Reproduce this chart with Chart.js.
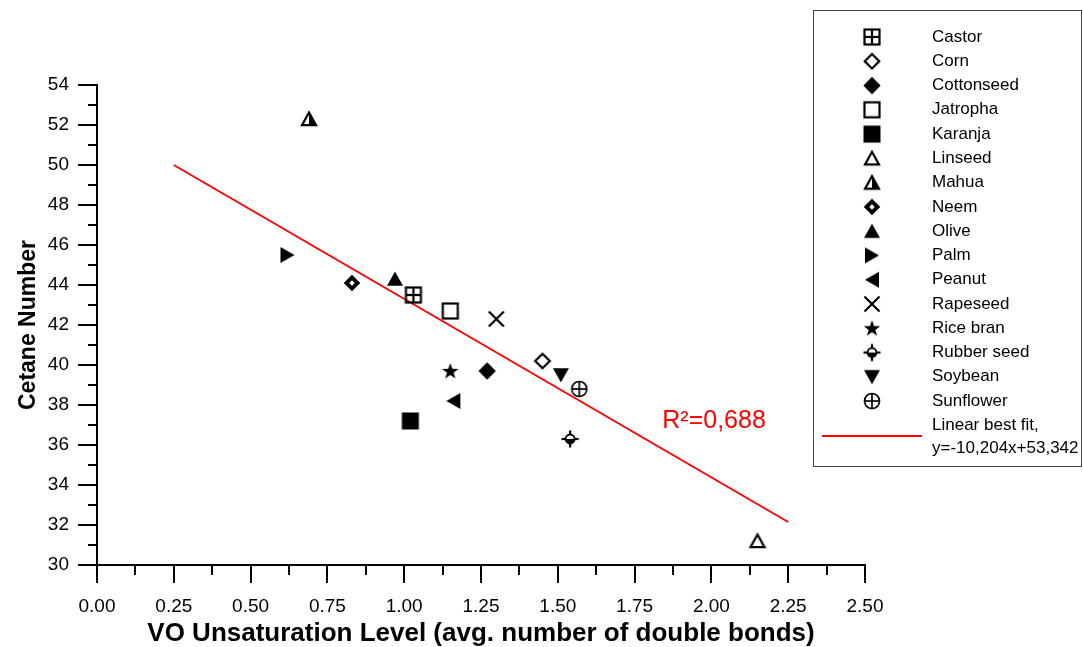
<!DOCTYPE html>
<html>
<head>
<meta charset="utf-8">
<script src="https://cdn.jsdelivr.net/npm/chart.js@4.4.1/dist/chart.umd.min.js"></script>
<style>
  html, body { margin: 0; padding: 0; background: #fff; }
  canvas { display: block; }
</style>
</head>
<body>
<canvas id="chart" width="1083" height="647"></canvas>
<script>
const FONT = "'Liberation Sans', Arial, sans-serif";

const oils = ["Castor", "Corn", "Cottonseed", "Jatropha", "Karanja", "Linseed", "Mahua", "Neem",
    "Olive", "Palm", "Peanut", "Rapeseed", "Rice bran", "Rubber seed", "Soybean", "Sunflower"];
const unsaturation = [1.03, 1.45, 1.27, 1.15, 1.02, 2.15, 0.69, 0.83, 0.97, 0.62, 1.16, 1.30, 1.15, 1.54, 1.51, 1.57];
const cetane = [43.5, 40.2, 39.7, 42.7, 37.2, 31.2, 52.3, 44.1, 44.3, 45.5, 38.2, 42.3, 39.7, 36.3, 39.5, 38.8];

// best-fit line as drawn in the figure (end points)
const fitX = [0.25, 2.25];
const fitY = [50.0, 32.15];
const fitLabel = ["Linear best fit,", "y=-10,204x+53,342"];
const r2Text = "R\u00B2=0,688";
const r2Pos = [1.84, 37.2];

const xTicks = { min: 0, max: 2.5, step: 0.25 };
const yTicks = { min: 30, max: 54, step: 2 };

// ---- marker glyphs ----
function marker(draw) {
    const c = document.createElement("canvas");
    c.width = 24;
    c.height = 24;
    const g = c.getContext("2d");
    g.fillStyle = "#000";
    g.strokeStyle = "#000";
    g.lineWidth = 2.2;
    draw(g);
    return c;
}

function poly(g, pts) {
    g.beginPath();
    g.moveTo(pts[0][0], pts[0][1]);
    pts.slice(1).forEach((p) => g.lineTo(p[0], p[1]));
    g.closePath();
}

function line(g, x1, y1, x2, y2) {
    g.beginPath();
    g.moveTo(x1, y1);
    g.lineTo(x2, y2);
    g.stroke();
}

const diamond = (r) => [[12, 12 - r], [12 + r, 12], [12, 12 + r], [12 - r, 12]];

const markers = {
    Castor: marker((g) => {
        g.strokeRect(4.5, 4.5, 15, 15);
        line(g, 12, 4.5, 12, 19.5);
        line(g, 4.5, 12, 19.5, 12);
    }),
    Corn: marker((g) => { poly(g, diamond(7.3)); g.stroke(); }),
    Cottonseed: marker((g) => { poly(g, diamond(8.7)); g.fill(); }),
    Jatropha: marker((g) => g.strokeRect(4.5, 4.5, 15, 15)),
    Karanja: marker((g) => g.fillRect(3.5, 3.5, 17, 17)),
    Linseed: marker((g) => { poly(g, [[12, 5.5], [19, 18.2], [5, 18.2]]); g.stroke(); }),
    Mahua: marker((g) => {
        poly(g, [[12, 5], [19.5, 18.7], [12, 18.7]]);
        g.fill();
        poly(g, [[12, 5.5], [19, 18.2], [5, 18.2]]);
        g.stroke();
    }),
    Neem: marker((g) => {
        poly(g, diamond(8.3));
        g.fill();
        g.fillStyle = "#fff";
        poly(g, diamond(2.7));
        g.fill();
    }),
    Olive: marker((g) => { poly(g, [[12, 4.5], [20, 18.7], [4, 18.7]]); g.fill(); }),
    Palm: marker((g) => { poly(g, [[5, 4], [19, 12], [5, 20]]); g.fill(); }),
    Peanut: marker((g) => { poly(g, [[19, 4], [5, 12], [19, 20]]); g.fill(); }),
    Rapeseed: marker((g) => { line(g, 4.5, 4.5, 19.5, 19.5); line(g, 19.5, 4.5, 4.5, 19.5); }),
    "Rice bran": marker((g) => {
        const pts = [];
        for (let i = 0; i < 10; i++) {
            const r = i % 2 ? 3.5 : 8.6;
            const a = -Math.PI / 2 + i * Math.PI / 5;
            pts.push([12 + r * Math.cos(a), 12.6 + r * Math.sin(a)]);
        }
        poly(g, pts);
        g.fill();
    }),
    "Rubber seed": marker((g) => {
        line(g, 12, 3.5, 12, 20.5);
        line(g, 3.5, 12, 20.5, 12);
        g.fillStyle = "#fff";
        g.beginPath(); g.arc(12, 12, 4.5, Math.PI, 0); g.fill();
        g.fillStyle = "#000";
        g.beginPath(); g.arc(12, 12, 4.5, 0, Math.PI); g.fill();
        g.lineWidth = 1.9;
        g.beginPath(); g.arc(12, 12, 4.5, 0, Math.PI * 2); g.stroke();
    }),
    Soybean: marker((g) => { poly(g, [[4, 5.3], [20, 5.3], [12, 19.5]]); g.fill(); }),
    Sunflower: marker((g) => {
        g.lineWidth = 1.7;
        g.beginPath(); g.arc(12, 12, 7.5, 0, Math.PI * 2); g.stroke();
        line(g, 12, 4.5, 12, 19.5);
        line(g, 4.5, 12, 19.5, 12);
    }),
};

// ---- datasets ----
const datasets = oils.map((name, i) => ({
    label: name,
    data: [{ x: unsaturation[i], y: cetane[i] }],
    pointStyle: markers[name],
    pointRadius: 6,
    order: 0,
}));

datasets.push({
    label: fitLabel.join(" "),
    data: fitX.map((x, i) => ({ x, y: fitY[i] })),
    showLine: true,
    borderColor: "#ff0000",
    borderWidth: 2,
    pointRadius: 0,
    order: 1,
});

// ---- plugins ----
const tickMarks = {
    id: "tickMarks",
    afterDraw(chart) {
        const { ctx, chartArea, scales } = chart;
        ctx.save();
        ctx.strokeStyle = "#000";
        ctx.lineWidth = 2;
        for (let v = yTicks.min; v <= yTicks.max; v += 1) {
            const py = Math.round(scales.y.getPixelForValue(v));
            const len = v % 2 === 0 ? 19 : 9;
            ctx.beginPath();
            ctx.moveTo(chartArea.left - len, py);
            ctx.lineTo(chartArea.left, py);
            ctx.stroke();
        }
        for (let i = 0; i <= 20; i++) {
            const px = Math.round(scales.x.getPixelForValue(i * 0.125));
            const len = i % 2 === 0 ? 18 : 10;
            ctx.beginPath();
            ctx.moveTo(px, chartArea.bottom);
            ctx.lineTo(px, chartArea.bottom + len);
            ctx.stroke();
        }
        ctx.restore();
    },
};

const r2Label = {
    id: "r2Label",
    afterDraw(chart) {
        const { ctx, scales } = chart;
        ctx.save();
        ctx.fillStyle = "#ff0000";
        ctx.font = `25px ${FONT}`;
        ctx.textAlign = "left";
        ctx.textBaseline = "middle";
        ctx.fillText(r2Text, scales.x.getPixelForValue(r2Pos[0]), scales.y.getPixelForValue(r2Pos[1]));
        ctx.restore();
    },
};

const sideLegend = {
    id: "sideLegend",
    afterDraw(chart) {
        const { ctx } = chart;
        ctx.save();
        ctx.strokeStyle = "#444";
        ctx.lineWidth = 1;
        ctx.strokeRect(813.5, 10.5, 268, 456);
        ctx.font = `17px ${FONT}`;
        ctx.fillStyle = "#000";
        ctx.textAlign = "left";
        ctx.textBaseline = "middle";
        oils.forEach((name, i) => {
            const y = 37 + i * 24.27;
            const m = markers[name];
            ctx.drawImage(m, 872 - m.width / 2, y - m.height / 2);
            ctx.fillText(name, 932, y);
        });
        ctx.strokeStyle = "#ff0000";
        ctx.lineWidth = 2;
        ctx.beginPath();
        ctx.moveTo(822, 436);
        ctx.lineTo(922, 436);
        ctx.stroke();
        ctx.fillText(fitLabel[0], 932, 425);
        ctx.fillText(fitLabel[1], 932, 448);
        ctx.restore();
    },
};

const tickFont = { family: FONT, size: 19 };

new Chart(document.getElementById("chart"), {
    type: "scatter",
    data: { datasets },
    options: {
        responsive: false,
        animation: false,
        layout: { padding: { left: 0, right: 218, top: 85, bottom: 0 } },
        plugins: {
            legend: { display: false },
            tooltip: { enabled: false },
        },
        scales: {
            x: {
                type: "linear",
                min: xTicks.min,
                max: xTicks.max,
                grid: { display: false, drawTicks: false },
                border: { display: true, color: "#000", width: 2 },
                ticks: {
                    stepSize: xTicks.step,
                    color: "#000",
                    font: tickFont,
                    padding: 30,
                    maxRotation: 0,
                    autoSkip: false,
                    callback: (v) => Number(v).toFixed(2),
                },
                title: {
                    display: true,
                    text: "VO Unsaturation Level (avg. number of double bonds)",
                    color: "#000",
                    font: { family: FONT, size: 26, weight: "bold", lineHeight: 1.05 },
                    padding: 0,
                },
                afterFit: (s) => { s.height = 82; },
            },
            y: {
                type: "linear",
                min: yTicks.min,
                max: yTicks.max,
                grid: { display: false, drawTicks: false },
                border: { display: true, color: "#000", width: 2 },
                ticks: {
                    stepSize: yTicks.step,
                    color: "#000",
                    font: tickFont,
                    padding: 28,
                },
                title: {
                    display: true,
                    text: "Cetane Number",
                    color: "#000",
                    font: { family: FONT, size: 23, weight: "bold" },
                    padding: { top: 15, bottom: 0 },
                },
                afterFit: (s) => { s.width = 97; },
            },
        },
    },
    plugins: [tickMarks, r2Label, sideLegend],
});
</script>
</body>
</html>
